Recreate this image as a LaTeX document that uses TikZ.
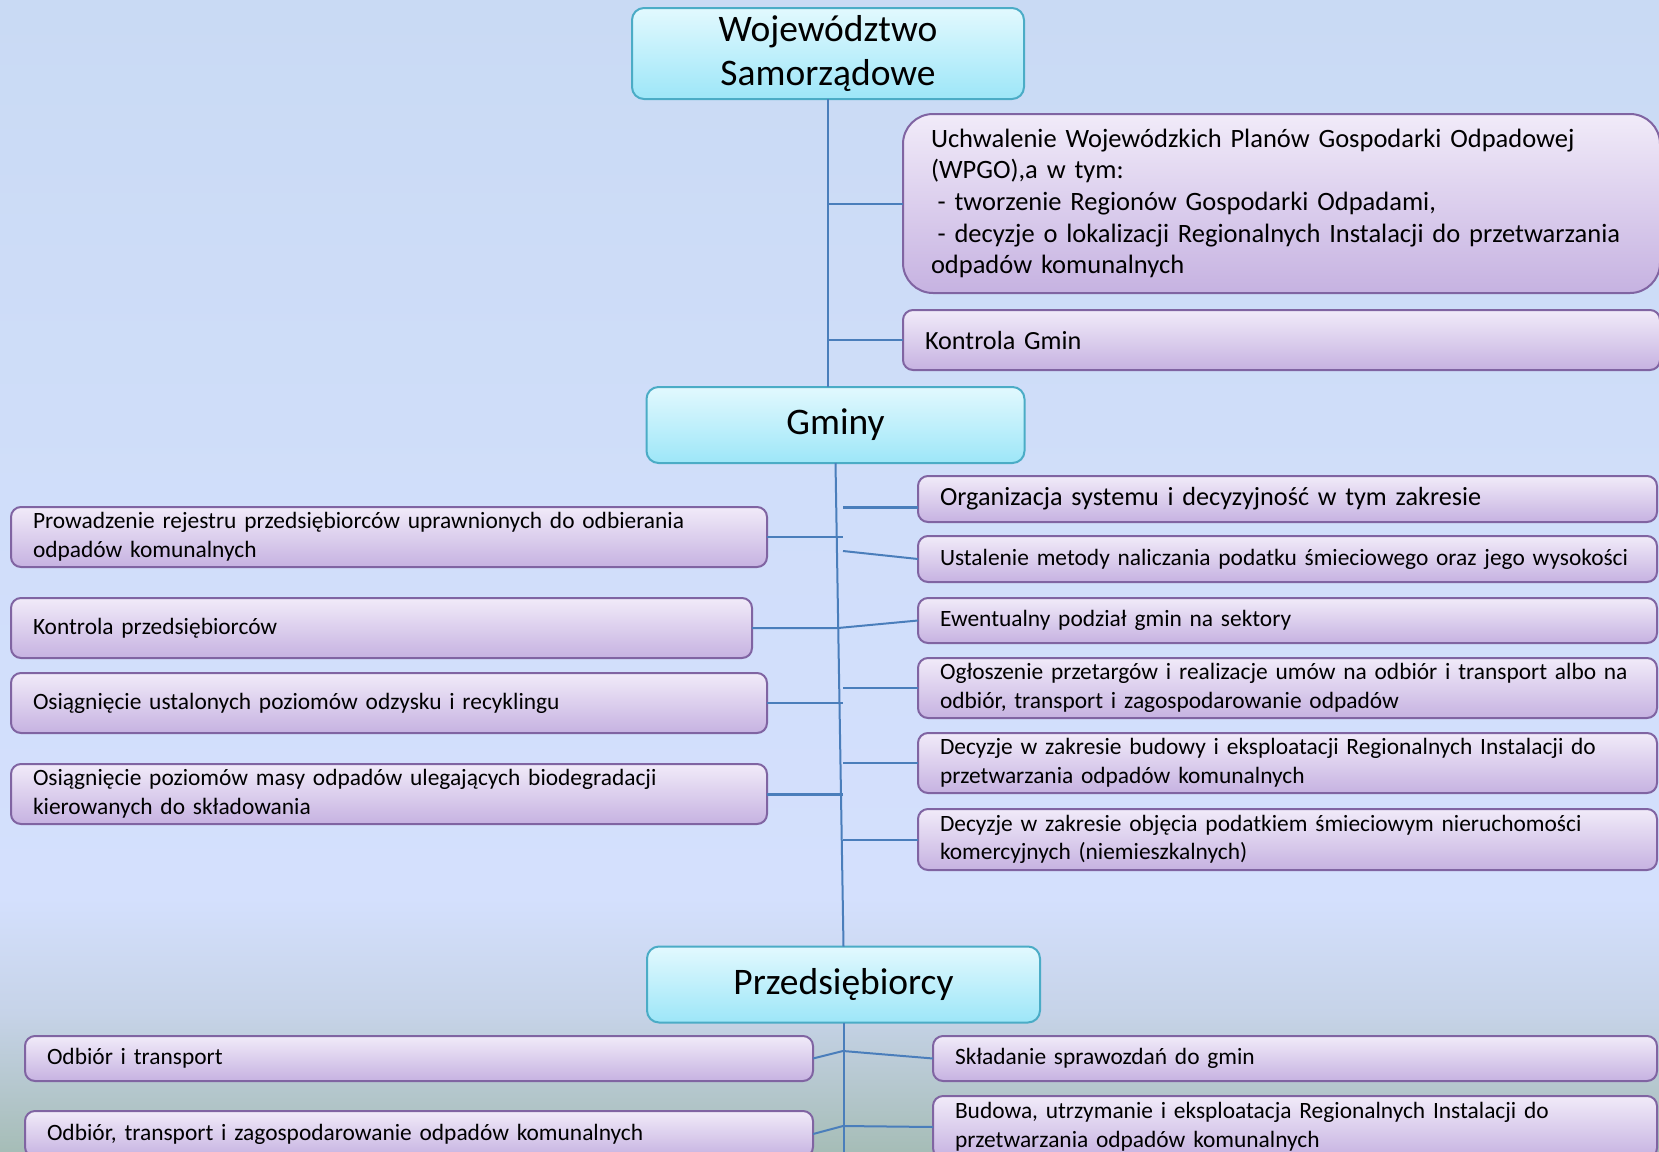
\documentclass[tikz,border=0pt]{standalone}
\usepackage{fontspec}
\setmainfont{Carlito}
\usetikzlibrary{positioning}

\definecolor{headtop}{HTML}{E2F9FE}
\definecolor{headbot}{HTML}{9DE6F8}
\definecolor{headline}{HTML}{4BACC6}
\definecolor{tasktop}{HTML}{F1EBF9}
\definecolor{taskbot}{HTML}{C6B2E1}
\definecolor{taskline}{HTML}{8064A2}
\definecolor{linkcol}{HTML}{4A7EBB}
\definecolor{bgtop}{HTML}{C9DAF4}
\definecolor{bgmid}{HTML}{D4E0FD}
\definecolor{bglow}{HTML}{C6D3E8}
\definecolor{bgbot}{HTML}{A6BDB7}

\pgfdeclareverticalshading{bgshade}{100bp}{color(0bp)=(bgbot); color(25bp)=(bgbot); color(31bp)=(bglow); color(36bp)=(bgmid); color(55bp)=(bgmid!60!bgtop); color(75bp)=(bgtop); color(100bp)=(bgtop)}

\begin{document}
\begin{tikzpicture}[x=1pt,y=-1pt,outer sep=0pt,
        head/.style={draw=headline,line width=2pt,rounded corners=12pt,top color=headtop,bottom color=headbot,align=center,inner sep=0pt,font=\fontsize{37.5}{43.4}\selectfont},
        task/.style={draw=taskline,line width=2pt,rounded corners=10pt,top color=tasktop,bottom color=taskbot,align=left,anchor=north west,inner xsep=22pt,inner ysep=0pt,font=\fontsize{23.4}{28.6}\selectfont},
        big/.style={font=\fontsize{26.2}{30}\selectfont},
        link/.style={draw=linkcol,line width=2pt},
        thicklink/.style={link,line width=3pt}]
    \useasboundingbox (0,0) rectangle (1659,1151);
    \fill[shading=bgshade] (0,0) rectangle (1659,1151);

    % Wojewodztwo
    \node[head,minimum width=392pt,minimum height=91pt] (woj) at (828,53.5) {Województwo\\Samorządowe};
    \node[task,rounded corners=30pt,inner xsep=28pt,text width=701pt,minimum height=179pt,font=\fontsize{26.5}{31.7}\selectfont] (wpgo) at (903,114)
        {\mbox{Uchwalenie Wojewódzkich Planów Gospodarki Odpadowej}\\(WPGO),a w tym:\\\hspace*{0.25em}\mbox{- tworzenie Regionów Gospodarki Odpadami,}\\\hspace*{0.25em}\mbox{- decyzje o lokalizacji Regionalnych Instalacji do przetwarzania}\\odpadów komunalnych};
    \node[task,big,text width=713pt,minimum height=60pt] (kg) at (903,310) {Kontrola Gmin};

    % Gminy
    \node[head,minimum width=378pt,minimum height=76pt] (gminy) at (835.5,425) {Gminy};
    \node[task,text width=712pt,minimum height=60pt] (rejestr) at (11,507) {Prowadzenie rejestru przedsiębiorców uprawnionych do odbierania\\odpadów komunalnych};
    \node[task,text width=697pt,minimum height=60pt] (kontrolap) at (11,598) {Kontrola przedsiębiorców};
    \node[task,text width=712pt,minimum height=60pt] (odzysk) at (11,673) {Osiągnięcie ustalonych poziomów odzysku i recyklingu};
    \node[task,text width=712pt,minimum height=60pt] (biodeg) at (11,764) {Osiągnięcie poziomów masy odpadów ulegających biodegradacji\\kierowanych do składowania};
    \node[task,big,text width=695pt,minimum height=46pt] (org) at (918,476) {Organizacja systemu i decyzyjność w tym zakresie};
    \node[task,text width=695pt,minimum height=46pt] (podatek) at (918,536) {\mbox{Ustalenie metody naliczania podatku śmieciowego oraz jego wysokości}};
    \node[task,text width=695pt,minimum height=45pt] (sektory) at (918,598) {Ewentualny podział gmin na sektory};
    \node[task,text width=695pt,minimum height=60pt] (przetargi) at (918,658) {Ogłoszenie przetargów i realizacje umów na odbiór i transport albo na\\odbiór, transport i zagospodarowanie odpadów};
    \node[task,text width=695pt,minimum height=60pt] (instalacje) at (918,733) {Decyzje w zakresie budowy i eksploatacji Regionalnych Instalacji do\\przetwarzania odpadów komunalnych};
    \node[task,text width=695pt,minimum height=61pt] (komerc) at (918,809) {Decyzje w zakresie objęcia podatkiem śmieciowym nieruchomości\\komercyjnych (niemieszkalnych)};

    % Przedsiebiorcy
    \node[head,minimum width=393pt,minimum height=76pt] (przed) at (843.5,984.5) {Przedsiębiorcy};
    \node[task,text width=744pt,minimum height=45pt] (odbior) at (25,1036) {Odbiór i transport};
    \node[task,text width=680pt,minimum height=45pt] (sprawozd) at (933,1036) {Składanie sprawozdań do gmin};
    \node[task,text width=744pt,minimum height=46pt] (zagosp) at (25,1111) {Odbiór, transport i zagospodarowanie odpadów komunalnych};
    \node[task,text width=680pt,minimum height=62pt] (budowa) at (933,1096) {Budowa, utrzymanie i eksploatacja Regionalnych Instalacji do\\przetwarzania odpadów komunalnych};

    \coordinate (stub) at (843,0);
    \coordinate (mid) at (838,0);
    \coordinate (t1) at (843,507);
    \coordinate (t2) at (843,551);
    \coordinate (j1) at (843,1051);
    \coordinate (j2) at (843,1126);
    \coordinate (end) at (843,1160);

    \draw[link] (woj.south) -- (woj.south |- gminy.north);
    \draw[link] (woj.south |- wpgo.west) -- (wpgo.west);
    \draw[link] (woj.south |- kg.west) -- (kg.west);
    \draw[link] (gminy.south) -- (przed.north);
    \draw[link] (rejestr.east) -- (rejestr.east -| stub);
    \draw[link] (kontrolap.east) -- (kontrolap.east -| mid) -- (sektory.west);
    \draw[link] (odzysk.east) -- (odzysk.east -| stub);
    \draw[thicklink] (biodeg.east) -- (biodeg.east -| stub);
    \draw[thicklink] (t1) -- (t1 -| org.west);
    \draw[link] (t2) -- (podatek.west);
    \draw[link] (stub |- przetargi.west) -- (przetargi.west);
    \draw[link] (stub |- instalacje.west) -- (instalacje.west);
    \draw[link] (stub |- komerc.west) -- (komerc.west);
    \draw[link] (przed.south) -- (przed.south |- end);
    \draw[link] (odbior.east) -- (j1) -- (sprawozd.west);
    \draw[link] (zagosp.east) -- (j2) -- (budowa.west);
\end{tikzpicture}
\end{document}
